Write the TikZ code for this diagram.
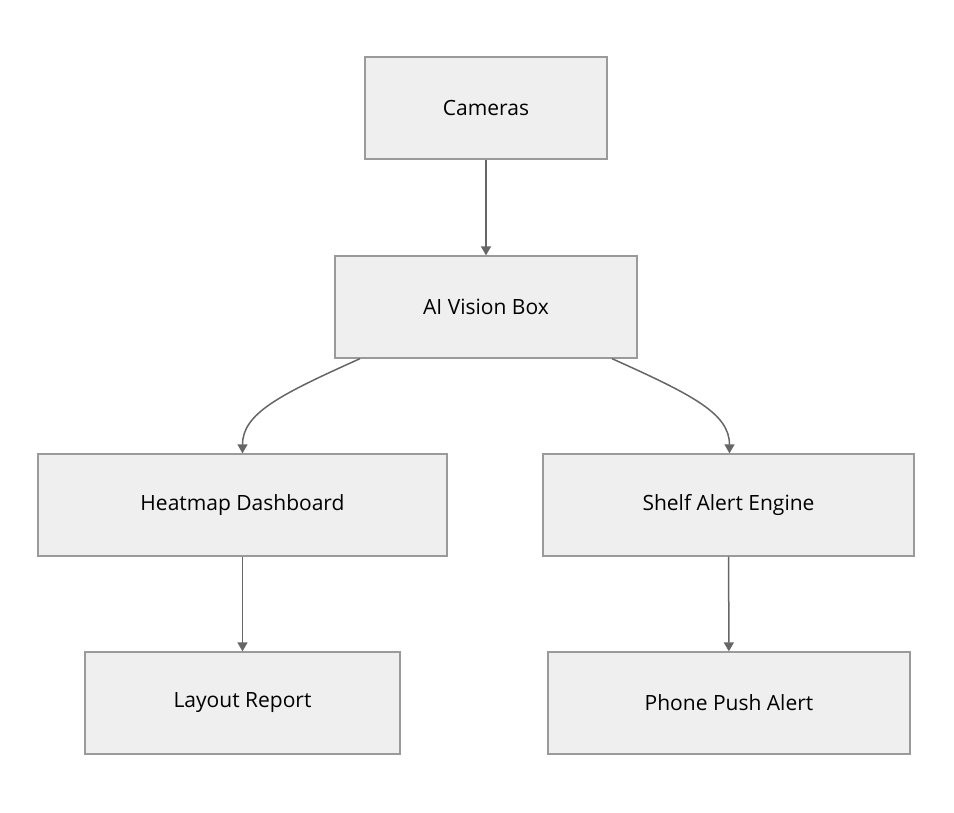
\documentclass[tikz,border=0pt]{standalone}
\usepackage{fontspec}
\setmainfont{Open Sans}
\usetikzlibrary{positioning,arrows.meta}

\definecolor{boxfill}{HTML}{EFEFEF}
\definecolor{boxline}{HTML}{9A9A9A}
\definecolor{linkcol}{HTML}{666666}

\begin{document}
\begin{tikzpicture}[x=1pt,y=-1pt,
        box/.style={draw=boxline, fill=boxfill, line width=1.3pt, minimum height=102pt,
                    font=\fontsize{21}{25}\selectfont, inner sep=0pt},
        link/.style={draw=linkcol, line width=1.5pt, -{Triangle[length=9pt,width=10pt]}}]
    \useasboundingbox (0,0) rectangle (954,812);
    \node[box, minimum width=242pt] (cam) at (486,108) {Cameras};
    \node[box, minimum width=302pt] (vis) at (486,307) {AI Vision Box};
    \node[box, minimum width=409pt] (heat) at (242.5,505) {Heatmap Dashboard};
    \node[box, minimum width=371pt] (shelf) at (728.5,505) {Shelf Alert Engine};
    \node[box, minimum width=315pt] (layout) at (242.5,703) {Layout Report};
    \node[box, minimum width=362pt] (phone) at (729,703) {Phone Push Alert};
    \draw[link] (cam) -- (vis);
    \draw[link] ([xshift=-126pt]vis.south) .. controls +(-80,36) and +(0,-40) .. (heat.north);
    \draw[link] ([xshift=126pt]vis.south) .. controls +(80,36) and +(0,-40) .. ([xshift=1pt]shelf.north);
    \draw[link] (heat) -- (layout);
    \draw[link] (shelf) -- (phone);
\end{tikzpicture}
\end{document}
